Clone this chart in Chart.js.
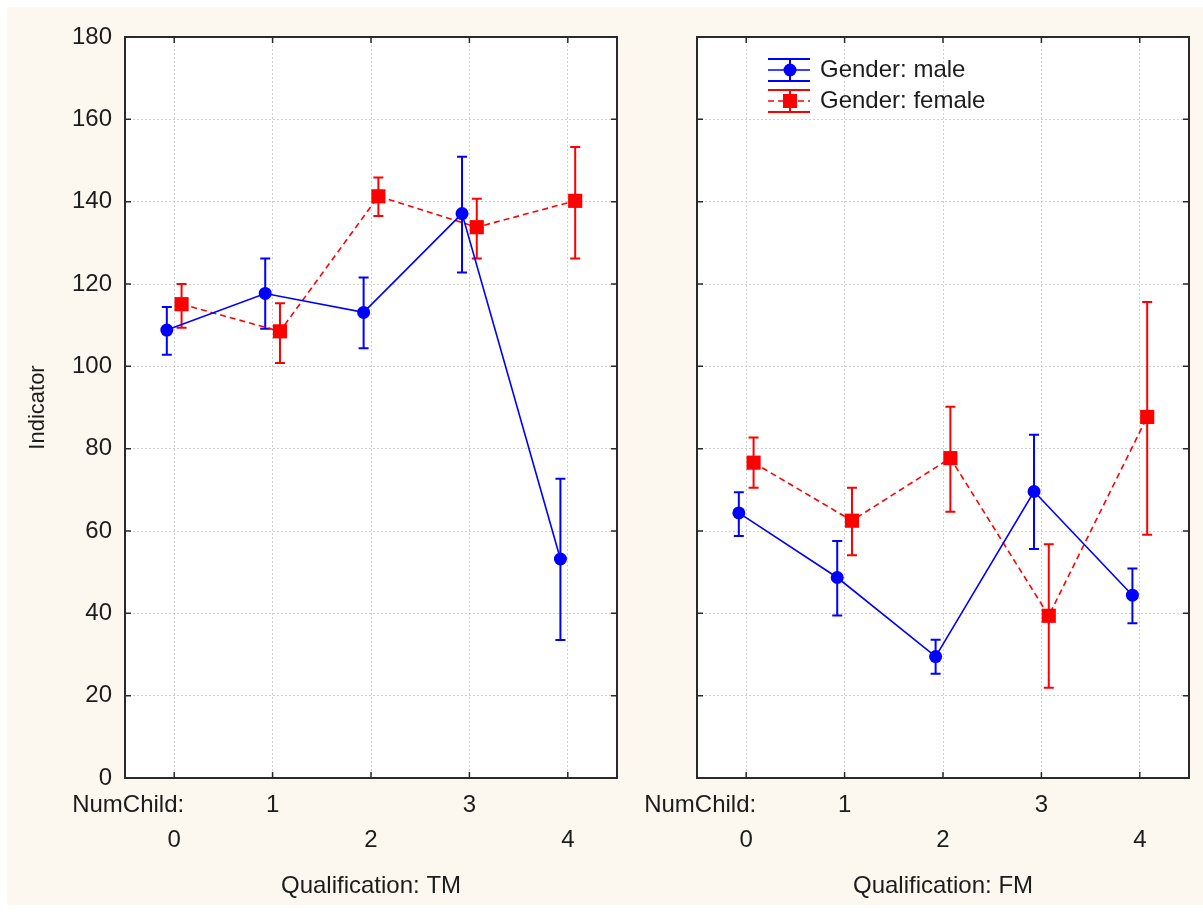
<!DOCTYPE html>
<html>
<head>
<meta charset="utf-8">
<script src="https://cdn.jsdelivr.net/npm/chart.js@4.4.0/dist/chart.umd.min.js"></script>
<style>
html, body { margin: 0; padding: 0; background: #ffffff; }
#sfondo { position: absolute; left: 7px; top: 7px; width: 1196px; height: 898px; background: #fdf8ef; }
#boxTM { position: absolute; left: 0; top: 0; }
#boxFM { position: absolute; left: 640px; top: 0; }
</style>
</head>
<body>
<div id="sfondo"></div>
<canvas id="boxTM" width="640" height="913"></canvas>
<canvas id="boxFM" width="563" height="913"></canvas>
<script>
// dati
var numChild = ['0', '1', '2', '3', '4'];
var yTicks = [0, 20, 40, 60, 80, 100, 120, 140, 160, 180];

var tmMaleMean = [108.8, 117.7, 113.1, 137.1, 53.2];
var tmMaleLow = [102.8, 109.1, 104.4, 122.8, 33.5];
var tmMaleHigh = [114.4, 126.2, 121.6, 150.9, 72.7];
var tmFemaleMean = [115.1, 108.5, 141.3, 133.8, 140.2];
var tmFemaleLow = [109.4, 100.8, 136.5, 126.2, 126.2];
var tmFemaleHigh = [120.0, 115.3, 145.9, 140.7, 153.3];

var fmMaleMean = [64.4, 48.7, 29.5, 69.6, 44.4];
var fmMaleLow = [58.8, 39.5, 25.3, 55.6, 37.6];
var fmMaleHigh = [69.4, 57.6, 33.6, 83.4, 50.9];
var fmFemaleMean = [76.6, 62.5, 77.7, 39.4, 87.7];
var fmFemaleLow = [70.5, 54.1, 64.7, 21.9, 59.1];
var fmFemaleHigh = [82.7, 70.5, 90.2, 56.8, 115.6];

var BLU = '#0000ff';
var ROSSO = '#ff0000';
var TESTO = '#1c1c1c';
var FONT = "'Liberation Sans', Arial, sans-serif";
var SPOSTA = 0.075;   // spostamento orizzontale dei due gruppi

function punti(medie, delta) {
    var out = [];
    for (var i = 0; i < medie.length; i++) {
        out.push({ x: i + delta, y: medie[i] });
    }
    return out;
}

var cornice = {
    id: 'cornice',
    beforeDraw: function (chart) {
        var a = chart.chartArea;
        chart.ctx.save();
        chart.ctx.fillStyle = '#ffffff';
        chart.ctx.fillRect(a.left, a.top, a.right - a.left, a.bottom - a.top);
        chart.ctx.restore();
    },
    beforeDatasetsDraw: function (chart) {
        var ctx = chart.ctx;
        var ys = chart.scales.y;
        chart.data.datasets.forEach(function (ds, k) {
            var meta = chart.getDatasetMeta(k);
            ctx.save();
            ctx.strokeStyle = ds.borderColor;
            ctx.lineWidth = 2;
            for (var j = 0; j < meta.data.length; j++) {
                var x = meta.data[j].x;
                var y1 = ys.getPixelForValue(ds.basso[j]);
                var y2 = ys.getPixelForValue(ds.alto[j]);
                ctx.beginPath();
                ctx.moveTo(x, y1); ctx.lineTo(x, y2);
                ctx.moveTo(x - 5, y1); ctx.lineTo(x + 5, y1);
                ctx.moveTo(x - 5, y2); ctx.lineTo(x + 5, y2);
                ctx.stroke();
            }
            ctx.restore();
        });
    },
    afterDraw: function (chart) {
        var ctx = chart.ctx;
        var a = chart.chartArea;
        var xs = chart.scales.x;
        var ys = chart.scales.y;
        ctx.save();
        ctx.strokeStyle = '#2a2a2a';
        ctx.lineWidth = 2;
        ctx.strokeRect(a.left, a.top, a.right - a.left, a.bottom - a.top);
        ctx.lineWidth = 1.5;
        ctx.beginPath();
        ys.ticks.forEach(function (t) {
            var y = ys.getPixelForValue(t.value);
            ctx.moveTo(a.left, y); ctx.lineTo(a.left + 6, y);
            ctx.moveTo(a.right, y); ctx.lineTo(a.right - 6, y);
        });
        xs.ticks.forEach(function (t) {
            var x = xs.getPixelForValue(t.value);
            ctx.moveTo(x, a.top); ctx.lineTo(x, a.top + 6);
            ctx.moveTo(x, a.bottom); ctx.lineTo(x, a.bottom - 6);
        });
        ctx.stroke();

        ctx.fillStyle = TESTO;
        ctx.font = '24px ' + FONT;
        ctx.textAlign = 'right';
        ctx.textBaseline = 'middle';
        ctx.fillText('NumChild:', xs.getPixelForValue(0) + 10, a.bottom + 27);

        if (chart.options.plugins.legenda) {
            var lx = 128, ly = 70;
            chart.data.datasets.forEach(function (ds, k) {
                var y = ly + k * 31;
                ctx.strokeStyle = ds.borderColor;
                ctx.lineWidth = 2;
                ctx.setLineDash([]);
                ctx.beginPath();
                ctx.moveTo(lx, y - 11); ctx.lineTo(lx + 42, y - 11);
                ctx.moveTo(lx, y + 11); ctx.lineTo(lx + 42, y + 11);
                ctx.moveTo(lx + 22, y - 11); ctx.lineTo(lx + 22, y + 11);
                ctx.stroke();
                ctx.lineWidth = 1.5;
                ctx.setLineDash(ds.borderDash || []);
                ctx.beginPath();
                ctx.moveTo(lx, y); ctx.lineTo(lx + 42, y);
                ctx.stroke();
                ctx.setLineDash([]);
                ctx.fillStyle = ds.borderColor;
                ctx.beginPath();
                if (ds.pointStyle === 'rect') {
                    ctx.rect(lx + 15, y - 7, 14, 14);
                } else {
                    ctx.arc(lx + 22, y, 6.5, 0, Math.PI * 2);
                }
                ctx.fill();
                ctx.fillStyle = TESTO;
                ctx.textAlign = 'left';
                ctx.fillText(ds.label, lx + 52, y);
            });
        }
        ctx.restore();
    }
};

function grafico(id, titolo, maschi, femmine, conEtichette) {
    return new Chart(document.getElementById(id), {
        type: 'line',
        data: {
            datasets: [{
                label: 'Gender: male',
                data: punti(maschi[0], -SPOSTA),
                basso: maschi[1],
                alto: maschi[2],
                borderColor: BLU,
                backgroundColor: BLU,
                borderWidth: 1.6,
                pointStyle: 'circle',
                pointRadius: 6.5,
                pointBorderWidth: 0
            }, {
                label: 'Gender: female',
                data: punti(femmine[0], SPOSTA),
                basso: femmine[1],
                alto: femmine[2],
                borderColor: ROSSO,
                backgroundColor: ROSSO,
                borderWidth: 1.6,
                borderDash: [6, 4],
                pointStyle: 'rect',
                pointRadius: 10,
                pointBorderWidth: 0
            }]
        },
        options: {
            responsive: false,
            animation: false,
            layout: { padding: { top: 37, right: conEtichette ? 23 : 14, left: 0, bottom: 0 } },
            plugins: {
                legend: { display: false },
                tooltip: { enabled: false },
                legenda: !conEtichette
            },
            scales: {
                x: {
                    type: 'linear',
                    min: -0.5,
                    max: 4.5,
                    afterBuildTicks: function (scale) {
                        scale.ticks = numChild.map(function (l, i) { return { value: i }; });
                    },
                    afterFit: function (scale) { scale.height = 135; },
                    grid: { color: '#cfcfcf', lineWidth: 1, drawTicks: false },
                    border: { display: false, dash: [2, 2] },
                    ticks: {
                        padding: 10,
                        color: TESTO,
                        font: { family: FONT, size: 24, lineHeight: 1.45 },
                        maxRotation: 0,
                        autoSkip: false,
                        callback: function (value) {
                            var i = Math.round(value);
                            return i % 2 ? [numChild[i]] : ['', numChild[i]];
                        }
                    },
                    title: {
                        display: true,
                        text: titolo,
                        color: TESTO,
                        font: { family: FONT, size: 24, lineHeight: 1.2 },
                        padding: { top: 0, bottom: 12 }
                    }
                },
                y: {
                    min: 0,
                    max: 180,
                    afterBuildTicks: function (scale) {
                        scale.ticks = yTicks.map(function (v) { return { value: v }; });
                    },
                    afterFit: function (scale) { scale.width = conEtichette ? 125 : 57; },
                    grid: { color: '#cfcfcf', lineWidth: 1, drawTicks: false },
                    border: { display: false, dash: [2, 2] },
                    ticks: {
                        display: conEtichette,
                        padding: 13,
                        color: TESTO,
                        font: { family: FONT, size: 24 }
                    },
                    title: {
                        display: conEtichette,
                        text: 'Indicator',
                        color: TESTO,
                        font: { family: FONT, size: 22, lineHeight: 1.2 },
                        padding: { top: 25, bottom: 0 }
                    }
                }
            }
        },
        plugins: [cornice]
    });
}

grafico('boxTM', 'Qualification: TM',
    [tmMaleMean, tmMaleLow, tmMaleHigh],
    [tmFemaleMean, tmFemaleLow, tmFemaleHigh], true);
grafico('boxFM', 'Qualification: FM',
    [fmMaleMean, fmMaleLow, fmMaleHigh],
    [fmFemaleMean, fmFemaleLow, fmFemaleHigh], false);
</script>
</body>
</html>
